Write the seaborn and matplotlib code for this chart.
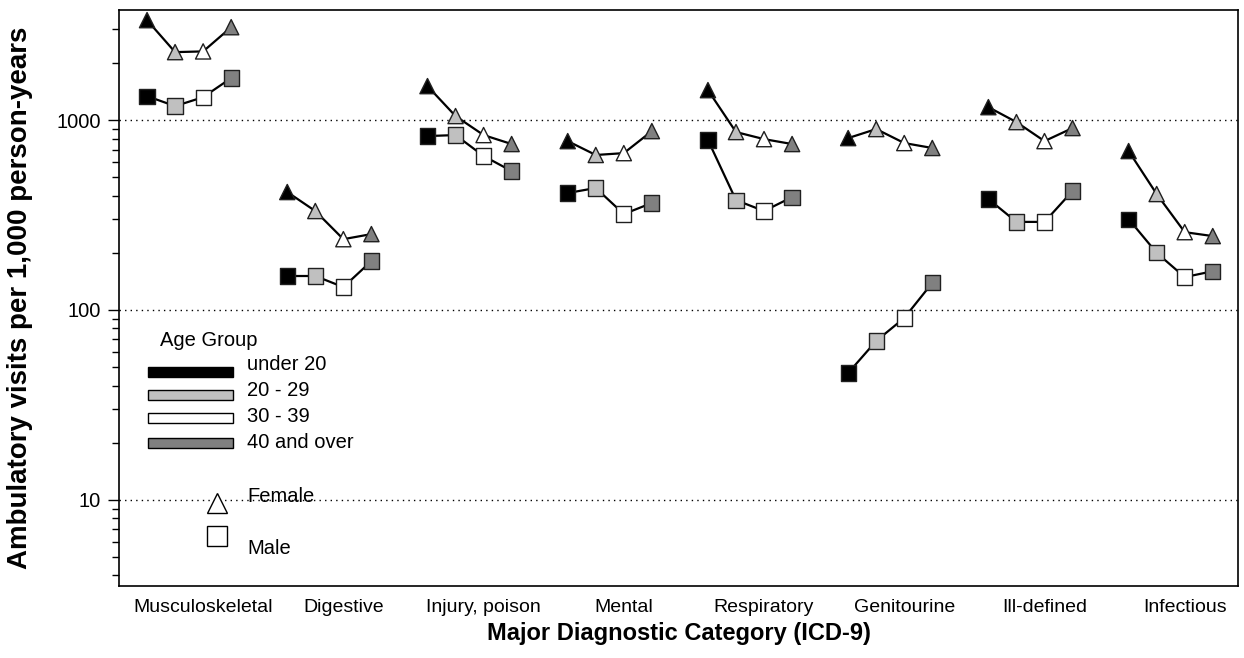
import numpy as np
import pandas as pd
import matplotlib
matplotlib.use("Agg")
import matplotlib.pyplot as plt
from matplotlib.patches import Rectangle
from matplotlib.lines import Line2D
import seaborn as sns

categories = ["Musculoskeletal", "Digestive", "Injury, poison", "Mental",
              "Respiratory", "Genitourine", "Ill-defined", "Infectious"]
age_groups = ["under 20", "20 - 29", "30 - 39", "40 and over"]
age_colors = ["#000000", "#c0c0c0", "#ffffff", "#808080"]

# values per category, in age-group order
female_values = [
    [3360, 2280, 2300, 3085],
    [418, 332, 236, 251],
    [1510, 1050, 834, 748],
    [775, 655, 670, 875],
    [1438, 865, 794, 748],
    [804, 897, 757, 713],
    [1170, 976, 775, 908],
    [687, 408, 257, 245],
]
male_values = [
    [1337, 1185, 1320, 1665],
    [151, 151, 132, 181],
    [824, 834, 647, 539],
    [413, 439, 320, 366],
    [785, 379, 332, 393],
    [46.6, 68.7, 90.8, 139],
    [384, 291, 291, 423],
    [301, 200, 149, 160],
]
y_ticks = [10, 100, 1000]
age_offsets = [-0.4, -0.2, 0.0, 0.2]

rows = []
for ci, cat in enumerate(categories):
    for sex, vals in (("Female", female_values[ci]), ("Male", male_values[ci])):
        for ai, age in enumerate(age_groups):
            rows.append(dict(category=cat, sex=sex, age=age,
                             x=ci + age_offsets[ai], value=vals[ai],
                             group=f"{cat}-{sex}"))
df = pd.DataFrame(rows)

sns.set_theme(style="white")
plt.rcParams["font.family"] = ["Liberation Sans", "DejaVu Sans"]
plt.rcParams["text.color"] = "black"
plt.rcParams["axes.labelcolor"] = "black"
plt.rcParams["xtick.color"] = "black"
plt.rcParams["ytick.color"] = "black"

fig = plt.figure(figsize=(12.44, 6.58), dpi=100)
ax = fig.add_axes([119 / 1244, (658 - 586) / 658, (1238 - 119) / 1244, (586 - 10) / 658])

sns.lineplot(data=df, x="x", y="value", units="group", estimator=None,
             color="black", linewidth=1.6, ax=ax, zorder=2, legend=False)
sns.scatterplot(data=df, x="x", y="value", hue="age", hue_order=age_groups,
                palette=age_colors, style="sex", markers={"Female": "^", "Male": "s"},
                s=120, edgecolor="#202020", linewidth=1.0, ax=ax, zorder=3,
                legend=False)

ax.set_yscale("log")
ax.set_ylim(3.52, 3800)
ax.set_xlim(-0.6, 7.38)
ax.set_yticks(y_ticks)
ax.set_yticklabels([str(t) for t in y_ticks])
ax.set_xticks(range(len(categories)))
ax.set_xticklabels(categories)
ax.tick_params(axis="x", length=0, labelsize=14, pad=9)
ax.tick_params(axis="y", which="major", length=8, width=1, labelsize=14.5,
               direction="out", left=True, pad=5)
ax.tick_params(axis="y", which="minor", length=5, width=1, direction="out", left=True)
for t in y_ticks:
    ax.axhline(t, color="black", linestyle=(0, (1, 3)), linewidth=1, zorder=1)
for sp in ax.spines.values():
    sp.set_color("black")
    sp.set_linewidth(1.2)
ax.grid(False)

ax.set_xlabel("Major Diagnostic Category (ICD-9)", fontsize=17, fontweight="bold")
ax.set_ylabel("Ambulatory visits per 1,000 person-years", fontsize=20, fontweight="bold")


def fx(px):
    return (px - 119) / 1119


def fy(py):
    return (586 - py) / 576


ax.xaxis.set_label_coords(0.5, fy(622))
ax.yaxis.set_label_coords(fx(33), 0.5)

ax.text(fx(160), fy(340), "Age Group", transform=ax.transAxes, fontsize=14.5,
        va="center", ha="left")
patch_y = [372, 395, 418, 443]
text_y = [364, 390, 417, 443]
for c, age, py, ty in zip(age_colors, age_groups, patch_y, text_y):
    ax.add_patch(Rectangle((fx(148), fy(py + 5)), (233 - 148) / 1119, 10 / 576,
                           transform=ax.transAxes, facecolor=c, edgecolor="black",
                           linewidth=1, clip_on=False))
    ax.text(fx(247), fy(ty), age, transform=ax.transAxes, fontsize=14.5,
            va="center", ha="left")

ax.add_line(Line2D([fx(217)], [fy(503)], transform=ax.transAxes, marker="^",
                   markersize=15, markerfacecolor="white", markeredgecolor="black",
                   markeredgewidth=1, linestyle="none"))
ax.add_line(Line2D([fx(217)], [fy(536)], transform=ax.transAxes, marker="s",
                   markersize=14, markerfacecolor="white", markeredgecolor="black",
                   markeredgewidth=1, linestyle="none"))
ax.text(fx(247), fy(497), "Female", transform=ax.transAxes, fontsize=14.5,
        va="center", ha="left")
ax.text(fx(247), fy(548), "Male", transform=ax.transAxes, fontsize=14.5,
        va="center", ha="left")

fig.savefig("out.png", dpi=100)
